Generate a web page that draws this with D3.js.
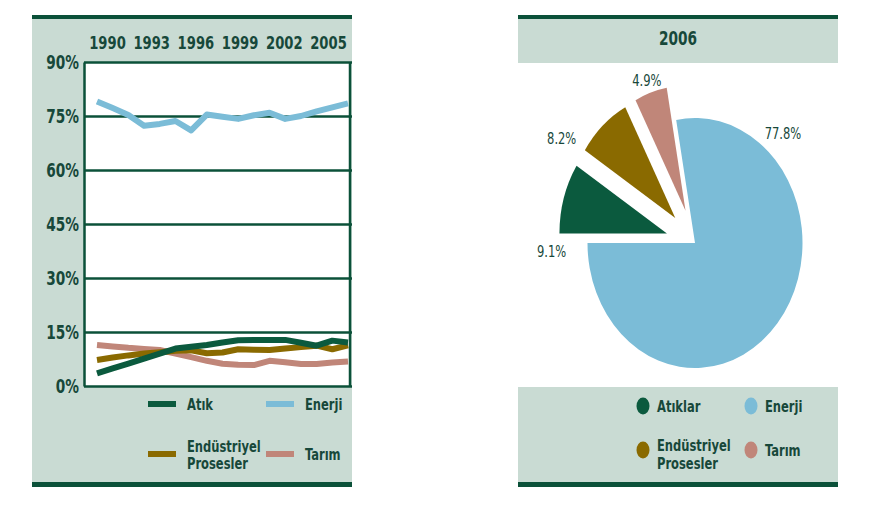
<!DOCTYPE html>
<html><head><meta charset="utf-8">
<script src="https://cdn.jsdelivr.net/npm/d3@7"></script>
<style>
body{margin:0;background:#fff;}
text{font-family:"DejaVu Sans Condensed","DejaVu Sans",sans-serif;font-stretch:condensed;fill:#17483a;}
</style></head><body>
<svg id="c" width="876" height="510"></svg>
<script>
// ---------- data ----------
const years = [1990,1991,1992,1993,1994,1995,1996,1997,1998,1999,2000,2001,2002,2003,2004,2005,2006];
const enerji = [79.0,77.2,75.3,72.3,72.8,73.6,71.0,75.4,74.8,74.2,75.2,75.9,74.2,75.0,76.3,77.4,78.5];
const atik = [3.5,4.9,6.2,7.6,9.0,10.4,10.9,11.4,12.1,12.7,12.8,12.8,12.8,12.0,11.2,12.6,12.1];
const endustriyel = [7.2,7.9,8.5,9.0,9.4,9.8,9.9,9.1,9.3,10.2,10.1,10.0,10.4,10.8,11.2,10.2,11.3];
const tarim = [11.4,11.0,10.6,10.3,10.0,9.0,8.0,7.0,6.2,5.9,5.8,7.0,6.6,6.1,6.1,6.5,6.8];
const yTicks = [0,15,30,45,60,75,90];
const xTickLabels = ["1990","1993","1996","1999","2002","2005"];
const pieYear = "2006";
const pieCategories = ["Enerji","Atıklar","Endüstriyel Prosesler","Tarım"];
const pieValues = [77.8, 9.1, 8.2, 4.9];

// ---------- styles ----------
const C = {dark:"#0b5139", bg:"#c9dbd3", atik:"#0b5a3e", enerji:"#7bbcd7", endu:"#8a6a00", tarim:"#c08679"};
const SQ = 0.8;
const svg = d3.select("#c");
function squeeze(sel, s){
  sel.each(function(){
    const x = +(this.getAttribute("x")||0);
    this.setAttribute("transform", `translate(${x*(1-s)},0) scale(${s},1)`);
  });
}

// ================= LEFT PANEL =================
svg.append("rect").attr("x",32).attr("y",19).attr("width",320).attr("height",463).attr("fill",C.bg);
svg.append("rect").attr("x",32).attr("y",15).attr("width",320).attr("height",4).attr("fill",C.dark);
svg.append("rect").attr("x",32).attr("y",482).attr("width",320).attr("height",5).attr("fill",C.dark);

const x = d3.scaleLinear().domain([1990,2006]).range([97,348]);
const xLab = d3.scalePoint().domain(xTickLabels).range([107,328]);
const y = d3.scaleLinear().domain([0,90]).range([386,62]);

svg.append("rect").attr("x",84).attr("y",62).attr("width",266).attr("height",324).attr("fill","#fff");

const yAx = svg.append("g").attr("transform","translate(84,0)")
  .call(d3.axisLeft(y).tickValues(yTicks).tickFormat(d=>d+"%").tickSizeInner(-268).tickSizeOuter(0).tickPadding(5));
yAx.select(".domain").attr("stroke",C.dark).attr("stroke-width",2.5);
yAx.selectAll(".tick line").attr("stroke",C.dark).attr("stroke-width",2.5);
yAx.selectAll(".tick text").attr("font-size",19).attr("font-weight","bold").style("fill","#17483a").call(squeeze, SQ);
// right frame
svg.append("line").attr("x1",350).attr("x2",350).attr("y1",y(90)).attr("y2",y(0)+1).attr("stroke",C.dark).attr("stroke-width",2.5);

const xAx = svg.append("g").attr("transform","translate(0,51.5)")
  .call(d3.axisTop(xLab).tickSize(0).tickPadding(3));
xAx.select(".domain").remove();
xAx.selectAll(".tick text").attr("font-size",17).attr("font-weight","bold").style("fill","#17483a").call(squeeze, 0.86);

const line = d3.line().x((d,i)=>x(years[i])).y(d=>y(d));
[[enerji,C.enerji],[tarim,C.tarim],[endustriyel,C.endu],[atik,C.atik]].forEach(([s,c])=>{
  svg.append("path").datum(s).attr("d",line).attr("fill","none").attr("stroke",c)
    .attr("stroke-width",6).attr("stroke-linejoin","round");
});

// left legend
const legL = [
  {name:["Atık"], c:C.atik, x:148, y:404},
  {name:["Enerji"], c:C.enerji, x:266, y:404},
  {name:["Endüstriyel","Prosesler"], c:C.endu, x:148, y:454},
  {name:["Tarım"], c:C.tarim, x:266, y:454}
];
legL.forEach(d=>{
  svg.append("rect").attr("x",d.x).attr("y",d.y-3).attr("width",28).attr("height",6).attr("fill",d.c);
  const t = svg.append("text").attr("x",d.x+39).attr("font-size",16).attr("font-weight","bold");
  d.name.forEach((n,i)=>{
    t.append("tspan").attr("x",d.x+39).attr("y",d.y + (d.name.length>1 ? (i===0?-8:9) : 0)).attr("dy","0.35em").text(n);
  });
  squeeze(t, SQ);
});

// ================= RIGHT PANEL =================
svg.append("rect").attr("x",518).attr("y",15).attr("width",320).attr("height",4).attr("fill",C.dark);
svg.append("rect").attr("x",518).attr("y",19).attr("width",320).attr("height",44).attr("fill",C.bg);
svg.append("text").attr("x",678).attr("y",38).attr("dy","0.35em").attr("text-anchor","middle")
  .attr("font-size",19).attr("font-weight","bold").text(pieYear).call(squeeze, SQ);
svg.append("rect").attr("x",518).attr("y",387).attr("width",320).attr("height",95).attr("fill",C.bg);
svg.append("rect").attr("x",518).attr("y",482).attr("width",320).attr("height",5).attr("fill",C.dark);

const pieColors = [C.enerji, C.atik, C.endu, C.tarim];
const start = 1.5*Math.PI - 2*Math.PI*pieValues[0]/100;
const pie = d3.pie().sort(null).startAngle(start).endAngle(start+2*Math.PI);
const arcs = pie(pieValues);
const R = 125, sx = 0.86, cx = 695, cy = 243, explode = 34;
const arc = d3.arc().innerRadius(0).outerRadius(R);
const pg = svg.append("g").attr("transform",`translate(${cx},${cy}) scale(${sx},1)`);
pg.selectAll("path").data(arcs).join("path")
  .attr("d",arc).attr("fill",(d,i)=>pieColors[i])
  .attr("transform",(d,i)=>{
    if(i===0) return null;
    const a=(d.startAngle+d.endAngle)/2;
    return `translate(${Math.sin(a)*explode},${-Math.cos(a)*explode})`;
  });

const labelPos = [{a:43,r:150},{a:267,r:167},{a:304,r:187},{a:341,r:172}];
arcs.forEach((d,i)=>{
  const a = labelPos[i].a*Math.PI/180, r = labelPos[i].r;
  svg.append("text").attr("x",cx+Math.sin(a)*r*sx).attr("y",cy-Math.cos(a)*r)
    .attr("dy","0.35em").attr("text-anchor","middle").attr("font-size",16)
    .text(pieValues[i].toFixed(1)+"%").call(squeeze, SQ);
});

// right legend
const legR = [
  {name:["Atıklar"], c:C.atik, x:643, y:406},
  {name:["Enerji"], c:C.enerji, x:751, y:406},
  {name:["Endüstriyel","Prosesler"], c:C.endu, x:643, y:450},
  {name:["Tarım"], c:C.tarim, x:751, y:450}
];
legR.forEach(d=>{
  svg.append("ellipse").attr("cx",d.x).attr("cy",d.y).attr("rx",6.5).attr("ry",8.5).attr("fill",d.c);
  const t = svg.append("text").attr("x",d.x+14).attr("font-size",16).attr("font-weight","bold");
  d.name.forEach((n,i)=>{
    t.append("tspan").attr("x",d.x+14).attr("y",d.y + (d.name.length>1 ? (i===0?-5:13) : 0)).attr("dy","0.35em").text(n);
  });
  squeeze(t, SQ);
});
</script>
</body></html>
